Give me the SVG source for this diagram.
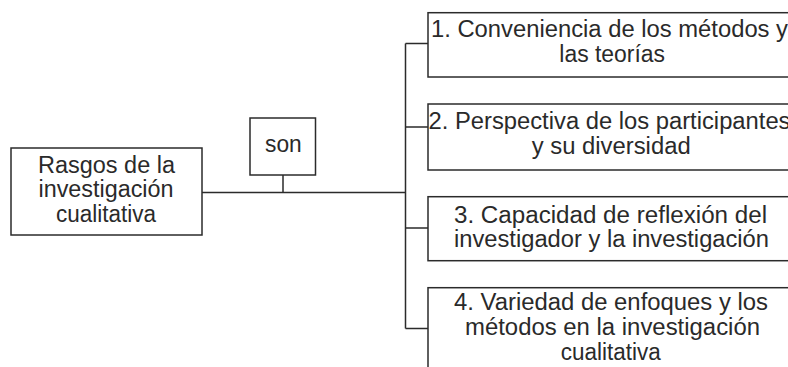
<svg xmlns="http://www.w3.org/2000/svg" width="788" height="367" viewBox="0 0 788 367">
<style>
.box{fill:#fff;stroke:#2b2b2b;stroke-width:1.5}
.ln{fill:none;stroke:#2b2b2b;stroke-width:1.5}
text{font-family:"Liberation Sans",Arial,sans-serif;font-size:23px;fill:#2a2a2a}
</style>
<rect width="788" height="367" fill="#fff"/>
<g id="connectors">
<path class="ln" d="M202 192.5H405.5M283 175V192.5M405.5 43.5V328.5M405.5 43.5H428M405.5 127H428M405.5 228H428M405.5 328.5H428"/>
</g>
<g id="root">
<rect class="box" x="11" y="148" width="191" height="87"/>
<text x="38" y="172.7" textLength="137" lengthAdjust="spacingAndGlyphs">Rasgos de la</text>
<text x="38.5" y="197.3" textLength="135" lengthAdjust="spacingAndGlyphs">investigación</text>
<text x="56" y="222.3" textLength="100" lengthAdjust="spacingAndGlyphs">cualitativa</text>
</g>
<g id="son">
<rect class="box" x="250" y="118" width="65.5" height="57"/>
<text x="265" y="151.7" textLength="36.7" lengthAdjust="spacingAndGlyphs">son</text>
</g>
<g id="n1">
<rect class="box" x="428" y="12.7" width="370" height="64.3"/>
<text x="431" y="37.3" textLength="357" lengthAdjust="spacingAndGlyphs">1. Conveniencia de los métodos y</text>
<text x="559.3" y="62.3" textLength="105.7" lengthAdjust="spacingAndGlyphs">las teorías</text>
</g>
<g id="n2">
<rect class="box" x="428" y="104" width="370" height="66"/>
<text x="428.5" y="129.3" textLength="362" lengthAdjust="spacingAndGlyphs">2. Perspectiva de los participantes</text>
<text x="531.7" y="154.3" textLength="159" lengthAdjust="spacingAndGlyphs">y su diversidad</text>
</g>
<g id="n3">
<rect class="box" x="428" y="196.7" width="370" height="64"/>
<text x="454" y="222.7" textLength="313" lengthAdjust="spacingAndGlyphs">3. Capacidad de reflexión del</text>
<text x="454" y="246.7" textLength="315" lengthAdjust="spacingAndGlyphs">investigador y la investigación</text>
</g>
<g id="n4">
<rect class="box" x="428" y="287.7" width="370" height="100"/>
<text x="454" y="310" textLength="314" lengthAdjust="spacingAndGlyphs">4. Variedad de enfoques y los</text>
<text x="465" y="335" textLength="295" lengthAdjust="spacingAndGlyphs">métodos en la investigación</text>
<text x="560.7" y="360" textLength="100" lengthAdjust="spacingAndGlyphs">cualitativa</text>
</g>
</svg>
